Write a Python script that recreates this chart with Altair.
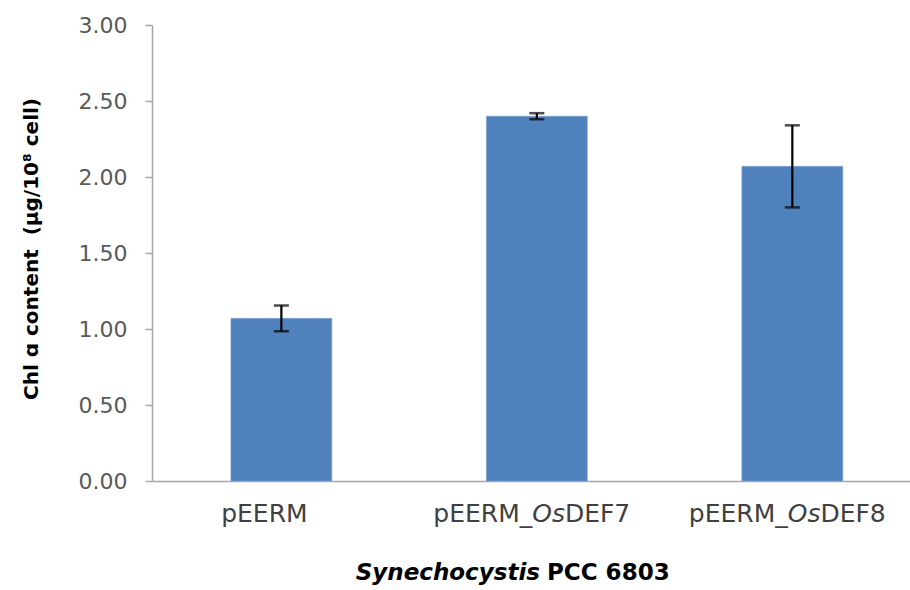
import altair as alt
import pandas as pd

categories = ["pEERM", "pEERM_OsDEF7", "pEERM_OsDEF8"]
values = [1.07, 2.40, 2.07]
errors = [0.085, 0.02, 0.27]
label_prefix = ["pEERM", "pEERM_", "pEERM_"]
label_italic = ["", "Os", "Os"]
label_suffix = ["", "DEF7", "DEF8"]
y_ticks = [0, 0.5, 1.0, 1.5, 2.0, 2.5, 3.0]

df = pd.DataFrame({
    "cat": categories,
    "val": values,
    "err": errors,
    "pre": label_prefix,
    "ita": label_italic,
    "suf": label_suffix,
})
df["lo"] = df["val"] - df["err"]
df["hi"] = df["val"] + df["err"]

FONT = "DejaVu Sans"

xscale = alt.Scale(domain=categories, paddingInner=0.605, paddingOuter=0.286, align=0.54)
x_enc = alt.X("cat:N", scale=xscale, sort=categories,
              axis=alt.Axis(title=None, labels=False, ticks=False, domain=True,
                            domainColor="#a6a6a6", domainWidth=1.5))
yscale = alt.Scale(domain=[0, 3], nice=False, zero=True)

base = alt.Chart(df)

bars = base.mark_bar(color="#4f81bd", stroke="#7fa3d3", strokeWidth=0.6).encode(
    x=x_enc,
    y=alt.Y("val:Q", scale=yscale,
            axis=alt.Axis(title=None, values=y_ticks, format=".2f", grid=False,
                          domainColor="#a6a6a6", domainWidth=1.5,
                          tickColor="#a6a6a6", tickWidth=1.5, tickSize=7,
                          labelPadding=18, labelFont=FONT, labelFontSize=22,
                          labelColor="#595959")),
)

rules = base.mark_rule(color="black", strokeWidth=2.2).encode(
    x=alt.X("cat:N", scale=xscale, sort=categories),
    y=alt.Y("lo:Q", scale=yscale),
    y2="hi:Q",
)
caps_hi = base.mark_tick(color="black", thickness=2.5, size=15, orient="horizontal").encode(
    x=alt.X("cat:N", scale=xscale, sort=categories),
    y=alt.Y("hi:Q", scale=yscale),
)
caps_lo = base.mark_tick(color="black", thickness=2.5, size=15, orient="horizontal").encode(
    x=alt.X("cat:N", scale=xscale, sort=categories),
    y=alt.Y("lo:Q", scale=yscale),
)

LBL_Y = 497
lbl_common = dict(font=FONT, fontSize=25, color="#404040", baseline="alphabetic")

plain_lbl = base.transform_filter("datum.ita == ''").mark_text(
    align="center", dx=-17, **lbl_common).encode(
    x=alt.X("cat:N", scale=xscale, sort=categories),
    y=alt.value(LBL_Y),
    text="pre:N",
)
pre_lbl = base.transform_filter("datum.ita != ''").mark_text(
    align="right", dx=-4.6, **lbl_common).encode(
    x=alt.X("cat:N", scale=xscale, sort=categories),
    y=alt.value(LBL_Y),
    text="pre:N",
)
ita_lbl = base.transform_filter("datum.ita != ''").mark_text(
    align="left", dx=-4.6, fontStyle="italic", **lbl_common).encode(
    x=alt.X("cat:N", scale=xscale, sort=categories),
    y=alt.value(LBL_Y),
    text="ita:N",
)
suf_lbl = base.transform_filter("datum.ita != ''").mark_text(
    align="left", dx=28.1, **lbl_common).encode(
    x=alt.X("cat:N", scale=xscale, sort=categories),
    y=alt.value(LBL_Y),
    text="suf:N",
)

title_src = alt.Chart(pd.DataFrame({"t": [0]}))
xt1 = title_src.mark_text(text="Synechocystis", font=FONT, fontSize=23, fontWeight="bold",
                          fontStyle="italic", align="right", baseline="alphabetic",
                          color="black").encode(x=alt.value(388), y=alt.value(555))
xt2 = title_src.mark_text(text="PCC 6803", font=FONT, fontSize=23, fontWeight="bold",
                          align="left", baseline="alphabetic",
                          color="black").encode(x=alt.value(395), y=alt.value(555))
yt = title_src.mark_text(text="Chl \u0251 content\u00a0 (\u03bcg/10\u2078 cell)", font=FONT,
                         fontSize=20, fontWeight="bold", angle=270, align="center",
                         baseline="middle", color="black").encode(
    x=alt.value(-120), y=alt.value(224))

chart = alt.layer(bars, rules, caps_hi, caps_lo, plain_lbl, pre_lbl, ita_lbl, suf_lbl,
                  xt1, xt2, yt).properties(
    width=758, height=456,
    autosize=alt.AutoSizeParams(type="none"),
    padding={"left": 152, "top": 25, "right": 0, "bottom": 109},
    background="white",
).configure_view(stroke=None)

chart.save("out.html", embed_options={"renderer": "svg", "actions": False})
